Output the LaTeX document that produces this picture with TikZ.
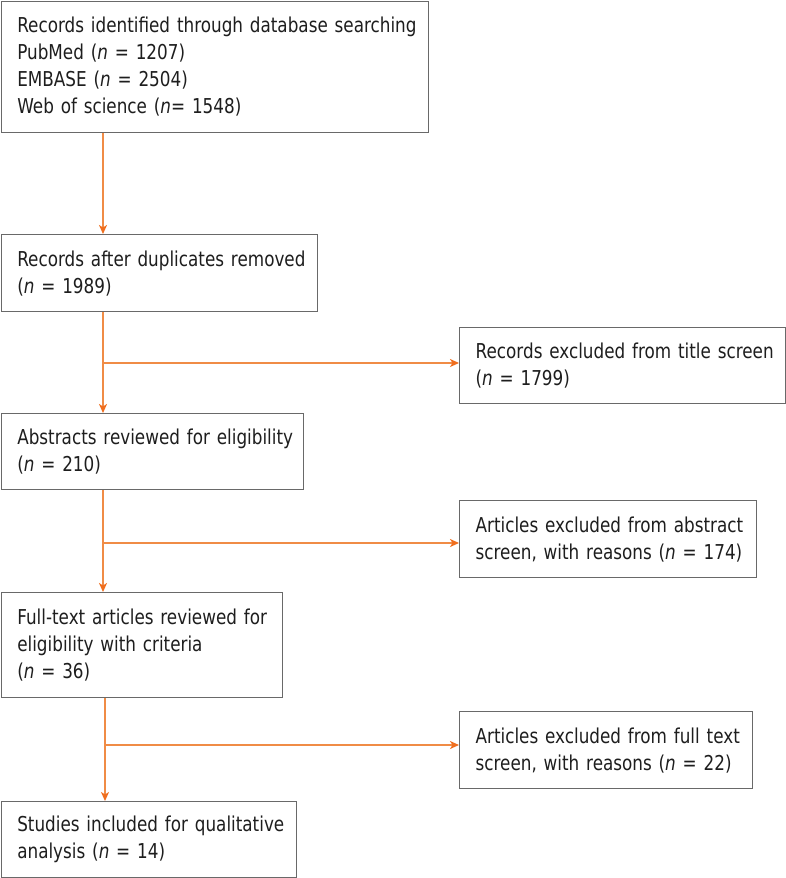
\documentclass[tikz,border=0pt]{standalone}
\usepackage{fontspec}
\setmainfont{DejaVu Sans}[FakeStretch=0.82]
\usetikzlibrary{arrows.meta}
\definecolor{boxline}{RGB}{105,105,105}
\definecolor{txt}{RGB}{30,30,30}
\definecolor{flow}{RGB}{240,140,70}
\definecolor{tip}{RGB}{240,110,30}
\newcommand{\lineof}[1]{\mbox{#1}}
\begin{document}
\begin{tikzpicture}[x=1pt,y=-1pt,
  font=\fontsize{20.5}{27}\selectfont,
  box/.style={draw=boxline, line width=1.3pt, anchor=north west, align=left,
    inner xsep=16pt, inner ysep=0pt, text=txt, fill=white},
  flowline/.style={draw=flow, line width=1.6pt},
  arr/.style={flowline, -{Stealth[length=9pt,width=8pt,inset=2.5pt,color=tip]}}]
\useasboundingbox (0,0) rectangle (786,878);
\node[box, text width=395pt, minimum height=131pt] (b1) at (0.65,0.65)
  {\lineof{Records identified through database searching}\\\lineof{PubMed (\textit{n} = 1207)}\\\lineof{EMBASE (\textit{n} = 2504)}\\\lineof{Web of science (\textit{n}= 1548)}};
\node[box, text width=284pt, minimum height=77pt] (b2) at (0.65,234)
  {\lineof{Records after duplicates removed}\\\lineof{(\textit{n} = 1989)}};
\node[box, text width=270pt, minimum height=76pt] (b3) at (0.65,413)
  {\lineof{Abstracts reviewed for eligibility}\\\lineof{(\textit{n} = 210)}};
\node[box, text width=249pt, minimum height=105pt] (b4) at (0.65,592)
  {\lineof{Full-text articles reviewed for}\\\lineof{eligibility with criteria}\\\lineof{(\textit{n} = 36)}};
\node[box, text width=263pt, minimum height=76pt] (b5) at (0.65,801)
  {\lineof{Studies included for qualitative}\\\lineof{analysis (\textit{n} = 14)}};
\node[box, text width=294pt, minimum height=76pt] (r1) at (459,327)
  {\lineof{Records excluded from title screen}\\\lineof{(\textit{n} = 1799)}};
\node[box, text width=265pt, minimum height=77pt] (r2) at (459,500)
  {\lineof{Articles excluded from abstract}\\\lineof{screen, with reasons (\textit{n} = 174)}};
\node[box, text width=261pt, minimum height=77pt] (r3) at (459,711)
  {\lineof{Articles excluded from full text}\\\lineof{screen, with reasons (\textit{n} = 22)}};
\coordinate (j1) at (103,363);
\coordinate (j2) at (103,543);
\coordinate (j3) at (105,745);
\draw[arr] ([xshift=102.35pt]b1.south west) -- ([xshift=102.35pt]b2.north west);
\draw[arr] ([xshift=102.35pt]b2.south west) -- ([xshift=102.35pt]b3.north west);
\draw[arr] ([xshift=102.35pt]b3.south west) -- ([xshift=102.35pt]b4.north west);
\draw[arr] ([xshift=104.35pt]b4.south west) -- ([xshift=104.35pt]b5.north west);
\draw[arr] (j1) -- (j1 -| r1.west);
\draw[arr] (j2) -- (j2 -| r2.west);
\draw[arr] (j3) -- (j3 -| r3.west);
\end{tikzpicture}
\end{document}
